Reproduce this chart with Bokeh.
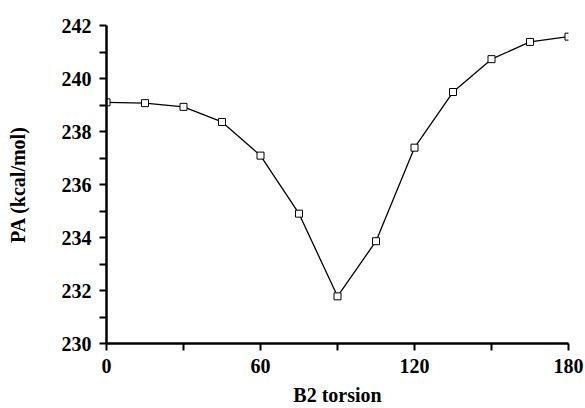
from bokeh.plotting import figure
from bokeh.embed import file_html
from bokeh.resources import INLINE
from bokeh.models import Range1d, FixedTicker

torsion = [0, 15, 30, 45, 60, 75, 90, 105, 120, 135, 150, 165, 180]
pa = [239.1, 239.07, 238.93, 238.36, 237.09, 234.9, 231.78, 233.86, 237.39, 239.49, 240.73, 241.38, 241.58]

x_ticks = [0, 30, 60, 90, 120, 150, 180]
x_labels = {0: "0", 60: "60", 120: "120", 180: "180"}
y_ticks = list(range(230, 243))
y_labels = {v: str(v) for v in range(230, 243, 2)}

FONT = "Liberation Serif"

p = figure(width=585, height=408, output_backend="svg", toolbar_location=None,
           x_range=Range1d(0, 180), y_range=Range1d(230, 242),
           min_border_left=106, min_border_top=25, min_border_right=17, min_border_bottom=63)
p.outline_line_color = None
p.grid.visible = False
p.background_fill_color = "white"
p.border_fill_color = "white"

p.line(torsion, pa, line_color="black", line_width=1.3)
p.scatter(torsion, pa, marker="square", size=7, fill_color="white", line_color="black", line_width=1)

for ax, ticks, labels in ((p.xaxis[0], x_ticks, x_labels), (p.yaxis[0], y_ticks, y_labels)):
    ax.ticker = FixedTicker(ticks=ticks)
    ax.major_label_overrides = {t: labels.get(t, "") for t in ticks}
    ax.minor_tick_line_color = None
    ax.major_tick_in = 0
    ax.major_tick_out = 7
    ax.major_tick_line_width = 2
    ax.axis_line_width = 2.5
    ax.axis_line_color = "black"
    ax.major_tick_line_color = "black"
    ax.major_label_text_font = FONT
    ax.major_label_text_font_style = "bold"
    ax.major_label_text_font_size = "20px"
    ax.major_label_text_color = "black"
    ax.axis_label_text_font = FONT
    ax.axis_label_text_font_style = "bold"
    ax.axis_label_text_font_size = "20px"
    ax.axis_label_text_color = "black"

p.xaxis.axis_label = "B2 torsion"
p.yaxis.axis_label = "PA (kcal/mol)"
p.xaxis.major_label_standoff = 8
p.yaxis.major_label_standoff = 8
p.xaxis.axis_label_standoff = 8
p.yaxis.axis_label_standoff = 30

open("out.html", "w").write(file_html(p, INLINE))
